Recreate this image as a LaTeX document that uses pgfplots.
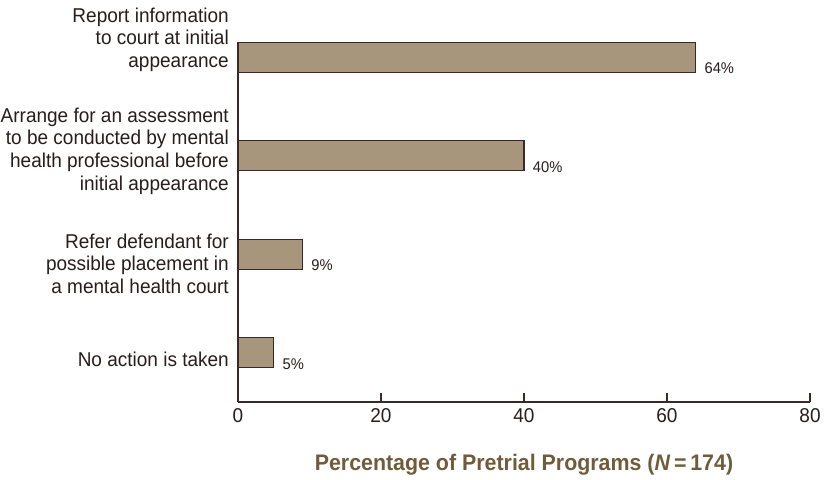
\documentclass[border=0pt]{standalone}
\usepackage{pgfplots}
\pgfplotsset{compat=1.18}
\usepackage{fontspec}
\setmainfont{Liberation Sans}[FakeStretch=0.95]
\definecolor{barfill}{RGB}{167,150,124}
\definecolor{baredge}{RGB}{60,40,40}
\definecolor{txt}{RGB}{40,28,28}
\definecolor{ttl}{RGB}{112,92,58}
\tikzset{catlab/.style={anchor=east, align=right, text=txt, font=\fontsize{20}{22.8}\selectfont, inner sep=0pt, xshift=-9pt}}
\begin{document}
\begin{tikzpicture}
\begin{axis}[
  scale only axis,
  width=572pt, height=360pt,
  xbar, bar width=30pt,
  xmin=0, xmax=80, ymin=-0.5, ymax=3.155,
  axis x line=bottom, axis y line=left,
  axis line style={-, color=baredge, line width=1.4pt},
  xtick={0,20,40,60,80},
  ytick=\empty,
  x tick style={color=baredge, line width=1.4pt},
  tick align=inside,
  major tick length=9pt,
  /pgf/number format/assume math mode=true,
  xticklabel style={font=\fontsize{20}{22}\selectfont, text=txt, yshift=-3pt},
  xlabel={\textbf{Percentage of Pretrial Programs (\textit{N}\,=\,174)}},
  xlabel style={font=\fontsize{22.5}{26}\selectfont, text=ttl, yshift=-25pt},
  nodes near coords={\pgfmathprintnumber{\pgfplotspointmeta}\%},
  nodes near coords style={anchor=west, font=\fontsize{15.5}{17}\selectfont, text=txt, xshift=5pt, yshift=-11pt},
  clip=false,
]
\addplot[fill=barfill, draw=baredge, line width=1.3pt] coordinates {(64,3) (40,2) (9,1) (5,0)};
\node[catlab] at (axis cs:0,3.178) {Report information\\to court at initial\\appearance};
\node[catlab] at (axis cs:0,2.046) {Arrange for an assessment\\to be conducted by mental\\health professional before\\initial appearance};
\node[catlab] at (axis cs:0,0.904) {Refer defendant for\\possible placement in\\a mental health court};
\node[catlab] at (axis cs:0,-0.071) {No action is taken};
\coordinate (sw) at (rel axis cs:0,0);
\coordinate (ne) at (rel axis cs:1,1);
\end{axis}
\pgfresetboundingbox
\path ([xshift=-238pt,yshift=-77pt]sw) rectangle ([xshift=14pt,yshift=42pt]ne);
\end{tikzpicture}
\end{document}
